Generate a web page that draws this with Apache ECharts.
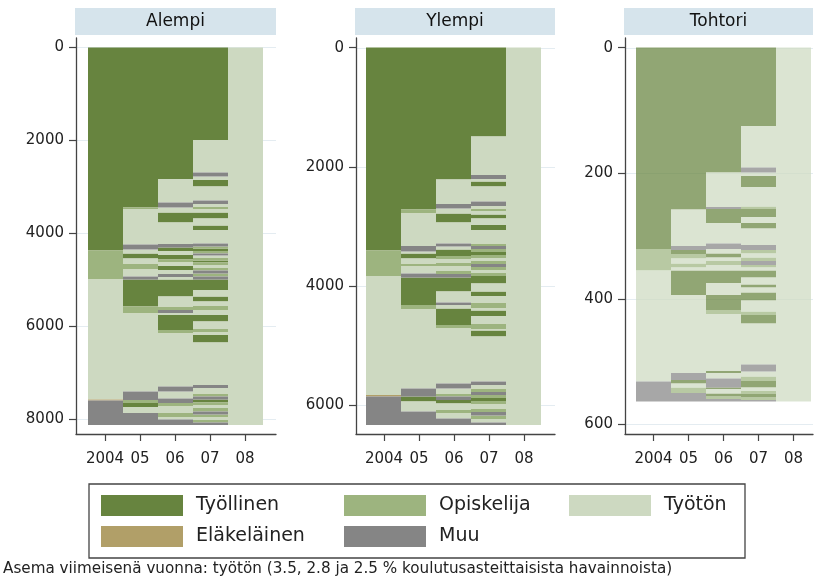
<!DOCTYPE html>
<html>
<head>
<meta charset="utf-8">
<script src="https://cdn.jsdelivr.net/npm/echarts@6/dist/echarts.min.js"></script>
<style>html,body{margin:0;padding:0;background:#fff}#c{width:817px;height:585px}</style>
</head>
<body>
<div id="c"></div>
<script>
// ---- data ----
const stateNames = ['Työllinen', 'Opiskelija', 'Työtön', 'Eläkeläinen', 'Muu'];
const panelTitles = ['Alempi', 'Ylempi', 'Tohtori'];
const yearValues = [2004, 2005, 2006, 2007, 2008];
const yearLabels = ['2004', '05', '06', '07', '08'];
const yTicksAlempi = [0, 2000, 4000, 6000, 8000];
const yTicksYlempi = [0, 2000, 4000, 6000];
const yTicksTohtori = [0, 200, 400, 600];
const caption = 'Asema viimeisenä vuonna: työtön (3.5, 2.8 ja 2.5 % koulutusasteittaisista havainnoista)';

// each column: [cumulative end of run, state index]; state: 0 Työllinen, 1 Opiskelija, 2 Työtön, 3 Eläkeläinen, 4 Muu
const alempi2004 = [[4373,0],[4989,1],[7570,2],[7595,3],[8120,4]];
const alempi05 = [[3441,0],[3480,1],[4244,2],[4350,4],[4430,2],[4538,0],[4645,2],[4774,1],[4932,2],[4989,4],[5577,0],[5720,1],[7405,2],[7584,4],[7650,1],[7735,0],[7864,2],[8120,4]];
const alempi06 = [[2832,0],[3341,2],[3441,4],[3556,2],[3771,0],[4229,2],[4301,4],[4380,0],[4470,2],[4560,0],[4630,1],[4700,2],[4790,0],[4880,2],[4940,4],[4989,2],[5362,0],[5577,2],[5650,1],[5710,4],[5756,2],[6079,0],[6150,1],[7297,2],[7405,4],[7550,2],[7650,4],[7720,1],[7864,2],[7950,1],[8000,2],[8120,4]];
const alempi07 = [[1993,0],[2695,2],[2781,4],[2853,2],[2996,0],[3297,2],[3370,4],[3430,2],[3490,1],[3556,2],[3677,0],[3835,2],[3928,0],[4215,2],[4280,4],[4330,1],[4380,0],[4430,1],[4480,4],[4530,2],[4580,1],[4630,0],[4680,1],[4740,2],[4800,1],[4860,4],[4930,1],[4989,4],[5219,0],[5362,2],[5470,0],[5560,2],[5660,1],[5756,2],[5900,0],[6060,2],[6130,1],[6186,2],[6351,0],[7262,2],[7330,4],[7440,2],[7510,1],[7570,4],[7640,0],[7700,1],[7760,2],[7830,1],[7900,4],[7960,1],[8020,2],[8070,1],[8120,4]];
const alempi08 = [[8120,2]];

const ylempi2004 = [[3405,0],[3830,1],[5827,2],[5850,3],[6330,4]];
const ylempi05 = [[2712,0],[2779,1],[3327,2],[3422,4],[3450,2],[3534,0],[3618,2],[3674,1],[3786,2],[3853,4],[4317,0],[4390,1],[5715,2],[5855,4],[5939,0],[6106,2],[6330,4]];
const ylempi06 = [[2209,0],[2623,2],[2695,4],[2779,2],[2936,0],[3282,2],[3338,4],[3383,2],[3495,0],[3550,1],[3610,2],[3670,1],[3750,2],[3800,1],[3853,4],[4093,0],[4278,2],[4317,4],[4373,2],[4652,0],[4708,1],[5631,2],[5715,4],[5800,2],[5855,1],[5910,4],[5970,0],[6080,2],[6140,1],[6225,2],[6330,4]];
const ylempi07 = [[1493,0],[2136,2],[2203,4],[2248,2],[2332,0],[2583,2],[2656,4],[2700,2],[2740,1],[2796,2],[2870,0],[2975,2],[3059,0],[3282,2],[3330,1],[3380,4],[3430,1],[3480,0],[3530,1],[3580,2],[3630,1],[3680,4],[3730,1],[3780,2],[3830,1],[3953,0],[4093,2],[4166,0],[4278,2],[4373,1],[4412,2],[4501,0],[4625,2],[4725,1],[4748,2],[4848,0],[5603,2],[5660,4],[5720,2],[5780,1],[5830,4],[5880,1],[5930,0],[5990,1],[6050,2],[6110,1],[6170,4],[6230,1],[6290,2],[6330,4]];
const ylempi08 = [[6330,2]];

const tohtori2004 = [[321,0],[355,1],[532,2],[564,4]];
const tohtori05 = [[258,0],[316,2],[322,4],[329,0],[336,1],[344,2],[350,1],[355,2],[394,0],[518,2],[529,4],[535,0],[541,2],[550,1],[564,4]];
const tohtori06 = [[199,0],[254,2],[257,4],[279,0],[312,2],[321,4],[328,2],[334,0],[340,2],[346,1],[355,2],[375,0],[394,2],[418,0],[424,1],[515,2],[518,0],[527,2],[541,4],[544,0],[551,2],[556,0],[560,1],[564,4]];
const tohtori07 = [[125,0],[191,2],[199,4],[204,2],[222,0],[253,2],[257,1],[270,0],[279,2],[288,0],[314,2],[322,4],[328,1],[334,2],[340,1],[346,4],[350,1],[355,2],[366,0],[377,2],[382,0],[390,2],[403,0],[420,2],[426,1],[439,0],[505,2],[516,4],[524,2],[531,1],[541,0],[547,2],[552,1],[557,0],[561,1],[564,4]];
const tohtori08 = [[564,2]];

const panelColumns = [
  [alempi2004, alempi05, alempi06, alempi07, alempi08],
  [ylempi2004, ylempi05, ylempi06, ylempi07, ylempi08],
  [tohtori2004, tohtori05, tohtori06, tohtori07, tohtori08]
];
const panelYTicks = [yTicksAlempi, yTicksYlempi, yTicksTohtori];

// ---- styles / layout ----
const colors = ['#67843f', '#9db47f', '#cdd9c1', '#b19f68', '#858585'];
const FONT = '"DejaVu Sans", Verdana, sans-serif';
const layout = [
  {left: 76, width: 200, xmin: 2003.171, ymin: -200, ymax: 8316, opacity: 1},
  {left: 356, width: 199, xmin: 2003.2, ymin: -163, ymax: 6482, opacity: 1},
  {left: 625, width: 188, xmin: 2003.186, ymin: -15.5, ymax: 615.4, opacity: 0.72}
];
const gridTop = 38, gridHeight = 396;

function renderItemFor(op) {
  return function (params, api) {
    const x = api.value(0), s = api.value(1), e = api.value(2);
    const p0 = api.coord([x - 0.5, s]);
    const p1 = api.coord([x + 0.5, e]);
    const x0 = Math.round(p0[0]), x1 = Math.round(p1[0]);
    const y0 = Math.round(p0[1] * 2) / 2, y1 = Math.round(p1[1] * 2) / 2;
    return {
      type: 'rect',
      shape: {x: x0, y: y0, width: x1 - x0, height: Math.max(y1 - y0, 0.8)},
      style: {fill: api.visual('color'), opacity: op}
    };
  };
}

function gridLineRender(xmin, xmax) {
  return function (params, api) {
    const v = api.value(0);
    const a = api.coord([xmin, v]), b = api.coord([xmax, v]);
    const y = Math.round(a[1]) + 0.5;
    return {type: 'line', shape: {x1: a[0] + 1, y1: y, x2: b[0], y2: y}, style: {stroke: '#e4ecf1', lineWidth: 1}};
  };
}

const grids = [], xAxes = [], yAxes = [], series = [], graphics = [];
layout.forEach((L, pi) => {
  const xmax = L.xmin + L.width / 35;
  grids.push({left: L.left, top: gridTop, width: L.width, height: gridHeight});
  xAxes.push({
    type: 'value', gridIndex: pi, min: L.xmin, max: xmax, position: 'bottom',
    axisLine: {show: true, onZero: false, lineStyle: {color: '#444', width: 1.3}},
    axisTick: {show: true, length: 7, lineStyle: {color: '#444', width: 1.2}, customValues: yearValues},
    axisLabel: {customValues: yearValues, margin: 18, fontSize: 15, color: '#222', fontFamily: FONT,
      formatter: v => yearLabels[yearValues.indexOf(Math.round(v))]},
    splitLine: {show: false}
  });
  yAxes.push({
    type: 'value', gridIndex: pi, inverse: true, min: L.ymin, max: L.ymax, position: 'left',
    axisLine: {show: true, onZero: false, lineStyle: {color: '#444', width: 1.3}},
    axisTick: {show: true, length: 7, lineStyle: {color: '#444', width: 1.2}, customValues: panelYTicks[pi]},
    axisLabel: {customValues: panelYTicks[pi], margin: 12, fontSize: 15, color: '#222', fontFamily: FONT,
      formatter: v => String(Math.round(v))},
    splitLine: {show: false}
  });
  // build per-state data
  const perState = stateNames.map(() => []);
  panelColumns[pi].forEach((col, ci) => {
    let start = 0;
    col.forEach(([end, st]) => {
      perState[st].push([yearValues[ci], start, end]);
      start = end;
    });
  });
  // faint grid lines behind the data
  series.push({
    type: 'custom', xAxisIndex: pi, yAxisIndex: pi, silent: true, z: 0,
    renderItem: gridLineRender(L.xmin, xmax), encode: {y: 0},
    data: panelYTicks[pi].map(v => [v])
  });
  stateNames.forEach((nm, si) => {
    series.push({
      type: 'custom', name: nm, xAxisIndex: pi, yAxisIndex: pi,
      renderItem: renderItemFor(L.opacity), encode: {x: 0, y: [1, 2]},
      itemStyle: {color: colors[si]}, data: perState[si], z: 2, silent: true
    });
  });
  // header strip
  const hx = L.left - 1, hw = L.width + 1;
  graphics.push({type: 'rect', left: hx, top: 8, shape: {width: hw, height: 27}, style: {fill: '#d6e4ec'}, silent: true});
  graphics.push({type: 'text', x: hx + hw / 2, y: 21.5, style: {text: panelTitles[pi], fill: '#111', font: '17px ' + FONT, textAlign: 'center', textVerticalAlign: 'middle'}, silent: true});
});

// legend box and caption
graphics.push({type: 'rect', shape: {x: 89, y: 484, width: 656, height: 74}, style: {fill: 'none', stroke: '#444', lineWidth: 1.3}, silent: true, z: -1});
graphics.push({type: 'text', x: 3, y: 569, style: {text: caption, fill: '#222', font: '15.2px ' + FONT, textVerticalAlign: 'middle'}, silent: true});

const legendPos = [[101, 495], [344, 495], [569, 495], [101, 526], [344, 526]];
const legends = stateNames.map((nm, si) => ({
  data: [{name: nm, itemStyle: {color: colors[si], opacity: 1}}],
  left: legendPos[si][0], top: legendPos[si][1], padding: 0,
  itemWidth: 82, itemHeight: 21, icon: 'rect', selectedMode: false,
  textStyle: {fontSize: 19, color: '#222', fontFamily: FONT, padding: [0, 0, 0, 8]}
}));

const chart = echarts.init(document.getElementById('c'), null, {renderer: 'canvas'});
chart.setOption({
  animation: false,
  backgroundColor: '#fff',
  textStyle: {fontFamily: FONT},
  grid: grids, xAxis: xAxes, yAxis: yAxes,
  legend: legends,
  series: series,
  graphic: graphics
});
</script>
</body>
</html>
